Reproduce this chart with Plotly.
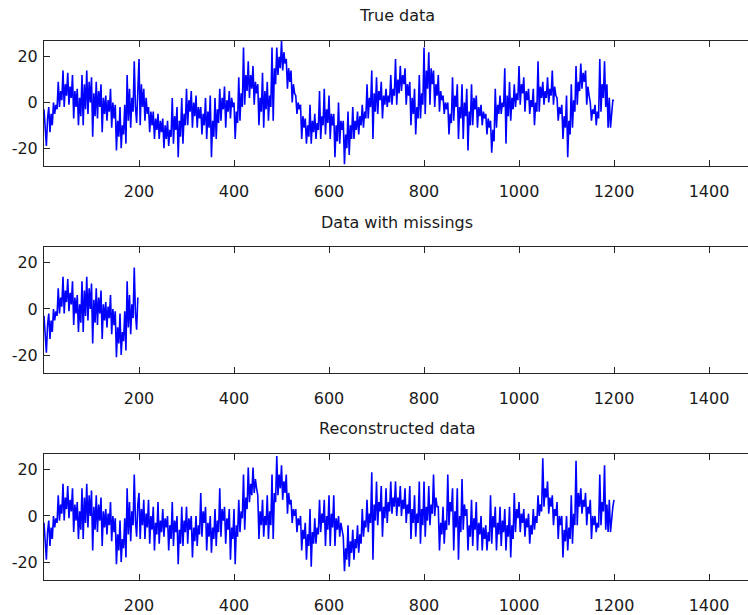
import numpy as np
import plotly.graph_objects as go

# Sample spacing of the stored series (time index units)
STEP = 2.5

# Full (true) signal, time 0 .. 1200
true_vals = [
    -3, -11, -19, -7, -2, -13, -5, -10, 0, -5, -1, -3, 9, -2, 5, 1, 14, -2, 8, 3,
    13, -1, 7, 2, 12, -7, 5, -2, 6, -10, 2, -6, 12, -10, 8, -3, 14, -5, 9, 0,
    11, -15, 4, -6, 9, -7, 5, -2, 8, -13, 2, -5, 3, -8, 1, -4, 6, -11, 0, -7,
    -1, -21, -8, -15, -2, -20, -10, -14, -1, -18, 12, -8, 6, -11, 2, -4, 18, -2, -9, 5,
    19, -10, 8, -2, 6, -8, 2, -5, -2, -13, -4, -10, -4, -16, -7, -12, -5, -16, -8, -13,
    -7, -20, -10, -16, -8, -19, -12, -15, 2, -18, -6, -12, -2, -24, -8, -15, 2, -18, -5, -10,
    6, -10, 1, -4, 5, -11, 0, -6, 3, -11, -2, -7, -2, -14, -5, -10, 2, -16, -4, -11,
    3, -24, -8, -15, 2, -16, -3, -9, 6, -8, 2, -3, 7, -11, 1, -4, 5, -7, 2, -2,
    0, -16, -4, -9, 11, -8, 4, -2, 24, -1, 12, 5, 18, 2, 12, 6, 16, -1, 9, 4,
    8, -10, 2, -4, 13, -11, 5, -3, 9, -8, 3, -2, 24, -8, 15, 8, 24, 12, 20, 15,
    27, 14, 22, 17, 19, 6, 15, 9, 14, 0, 8, 4, 3, -5, 0, -3, -1, -16, -6, -11,
    -7, -18, -10, -15, -1, -18, -8, -13, -5, -16, -9, -12, 5, -16, -6, -10, 6, -14, -3, -9,
    3, -16, -5, -10, -5, -24, -10, -17, 0, -18, -8, -12, -8, -27, -14, -20, -4, -23, -10, -16,
    -2, -16, -8, -12, -4, -14, -6, -10, -1, -11, -4, -7, 8, -7, 2, -2, 14, -16, 4, -4,
    11, -5, 5, 1, 9, -7, 3, -1, 6, -2, 3, 0, 12, -1, 6, 3, 19, -1, 10, 4,
    16, 5, 12, 8, 15, -1, 8, 3, 9, -10, 2, -5, 6, -14, -2, -7, 12, -7, 4, -1,
    24, -5, 14, 6, 22, -1, 15, 8, 14, -2, 8, 3, 12, -4, 5, 1, 3, -5, 0, -3,
    0, -14, -5, -9, 11, -8, 3, -2, 8, -16, -2, -7, 8, -16, 0, -6, 6, -21, -4, -10,
    8, -10, 2, -3, 3, -11, -2, -6, -1, -10, -4, -7, -5, -14, -7, -11, -8, -22, -12, -17,
    6, -11, -1, -5, 3, -5, 0, -2, 15, -18, 3, -6, 9, -8, 2, -3, 8, -2, 4, 1,
    16, -1, 8, 4, 11, -4, 5, 1, 6, -5, 1, -2, 6, -10, 0, -4, 18, -4, 7, 2,
    9, -1, 5, 2, 11, 0, 6, 3, 14, -1, 7, 3, 2, -8, -2, -5, -1, -16, -6, -11,
    3, -24, -8, -14, 8, -11, 1, -4, 16, -1, 9, 5, 17, 6, 13, 9, 14, -1, 7, 3,
    0, -8, -3, -5, -1, -10, -4, -7, 19, -4, 8, 2, 18, -2, 8, -11, 2, -11, -3, 1,
    1,
]

# Number of samples observed before the gap (time < 200)
N_OBSERVED = 80

# Estimates for the missing stretch, time 200 .. 1200
recon_tail = [
    10, -10, 3, -4, 7, -10, 1, -5, 7, -12, 0, -6, 4, -15, -3, -8, 6, -12, -2, -7,
    3, -9, -1, -5, 0, -15, -4, -10, 6, -13, -2, -7, 0, -21, -6, -12, 4, -13, -2, -7,
    4, -12, -1, -6, 0, -18, -5, -11, 0, -13, -4, -8, 10, -9, 2, -3, 4, -15, -3, -9,
    0, -16, -5, -10, 3, -13, -2, -7, 12, -9, 3, -2, 4, -12, -1, -6, 3, -19, -5, -10,
    3, -21, -4, -9, 7, -7, 2, -1, 18, -6, 8, 3, 21, 6, 14, 9, 21, 10, 16, 12,
    9, -10, 2, -4, 7, -9, 0, -4, 9, -10, 2, -4, 18, -10, 10, 6, 26, 9, 18, 12,
    22, 7, 15, 10, 18, 1, 10, 5, 7, -3, 3, 0, 3, -7, -1, -4, 0, -15, -6, -10,
    -3, -19, -8, -13, 3, -22, -7, -12, -1, -12, -5, -8, 7, -7, 1, -3, 7, -13, 0, -6,
    9, -13, 1, -5, 9, -13, -1, -6, 0, -9, -3, -6, -9, -24, -14, -19, -4, -22, -11, -16,
    -6, -19, -10, -14, -4, -16, -8, -12, 3, -9, -2, -5, 7, -7, 1, -3, 19, -19, 5, -2,
    15, -4, 6, 2, 13, -9, 4, -1, 12, -3, 6, 2, 15, 1, 8, 4, 15, 0, 8, 4,
    13, 0, 7, 3, 12, -3, 5, 1, 13, -10, 3, -3, 9, -9, 1, -3, 15, -12, 3, -4,
    15, -9, 4, -2, 13, -4, 5, 1, 18, 0, 8, 4, 4, -15, -3, -8, 4, -12, -2, -6,
    18, -4, 6, 2, 12, -15, 2, -5, 12, -19, 0, -7, 16, -6, 5, 0, 3, -15, -4, -9,
    7, -13, -1, -6, 6, -15, -3, -8, 0, -15, -5, -10, -4, -15, -7, -11, 9, -12, 0, -5,
    4, -15, -3, -8, 4, -13, -2, -7, 3, -15, -4, -9, 4, -18, -4, -10, 10, -7, 3, -1,
    6, -7, 1, -3, 3, -9, -1, -5, 1, -12, -4, -8, 3, -6, 0, -3, 9, 0, 5, 2,
    25, 4, 12, 8, 15, 1, 8, 4, 9, -4, 3, 0, 6, -10, 0, -4, 0, -18, -6, -11,
    0, -15, -5, -10, 9, -12, 1, -4, 24, -4, 10, 4, 12, 1, 7, 4, 10, -4, 4, 1,
    7, -10, 0, -4, 0, -7, -3, -5, 18, -4, 6, 2, 22, -6, 5, -7, 7, -7, 0, 4,
    7,
]

titles = ["True data", "Data with missings", "Reconstructed data"]
x_ticks = [200, 400, 600, 800, 1000, 1200, 1400]
y_ticks = [-20, 0, 20]
X_RANGE = [0, 1482]
Y_RANGE = [-27.8, 26.9]

observed = true_vals[:N_OBSERVED]
reconstructed = true_vals[:N_OBSERVED] + recon_tail

series = [true_vals, observed, reconstructed]

W, H = 748, 615
# vertical extent of each panel in pixels (top, bottom)
panels_px = [(41, 166), (247, 373), (454, 580)]
title_px = [15, 222, 428]

TXT = "#1a1a1a"
AX = "#262626"
FONT = dict(family="DejaVu Sans", size=16, color=TXT)

fig = go.Figure()
layout = dict(
    width=W, height=H,
    margin=dict(l=44, r=0, t=0, b=0),
    paper_bgcolor="white", plot_bgcolor="white",
    showlegend=False, template="none",
    font=FONT,
)

annotations = []
for i, (vals, (top, bot)) in enumerate(zip(series, panels_px)):
    k = "" if i == 0 else str(i + 1)
    x = np.arange(len(vals)) * STEP
    fig.add_trace(go.Scatter(
        x=x, y=vals, mode="lines",
        line=dict(color="#0000ff", width=1.6),
        xaxis="x" + k, yaxis="y" + k, hoverinfo="skip",
    ))
    dom = [(H - bot) / H, (H - top) / H]
    layout["xaxis" + k] = dict(
        domain=[0, 1], range=X_RANGE, anchor="y" + k,
        tickvals=x_ticks, ticks="inside", ticklen=6, tickwidth=1, tickcolor=AX,
        showline=True, linecolor=AX, linewidth=1, mirror="ticks",
        showgrid=False, zeroline=False, automargin=False,
        tickfont=FONT, ticklabelstandoff=11,
    )
    layout["yaxis" + k] = dict(
        domain=dom, range=Y_RANGE, anchor="x" + k,
        tickvals=y_ticks, ticktext=[str(v) for v in y_ticks],
        ticks="inside", ticklen=6, tickwidth=1, tickcolor=AX,
        showline=True, linecolor=AX, linewidth=1, mirror=False,
        showgrid=False, zeroline=False, automargin=False,
        tickfont=FONT, ticklabelstandoff=2,
    )
    annotations.append(dict(
        text=titles[i], xref="paper", yref="paper",
        x=(397 - 44) / (W - 44), y=(H - title_px[i]) / H,
        xanchor="center", yanchor="middle", showarrow=False, font=FONT,
    ))

layout["annotations"] = annotations
fig.update_layout(**layout)
fig.write_html("out.html")
